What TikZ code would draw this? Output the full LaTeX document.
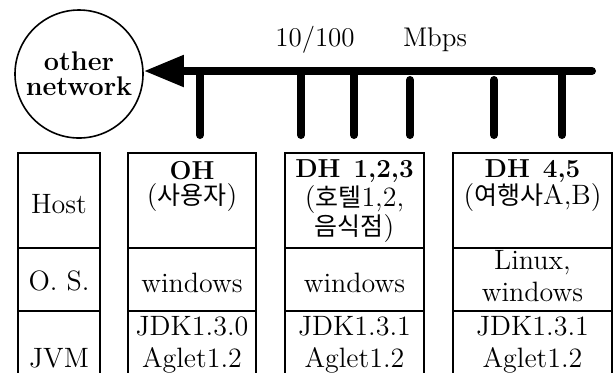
\documentclass[tikz,border=0pt]{standalone}
\usepackage{fontspec}
\newfontfamily\krfont{Noto Sans CJK KR}
\newcommand{\kr}[1]{{\krfont\fontsize{12.5}{16}\selectfont #1}}
\usetikzlibrary{arrows.meta,positioning}

\begin{document}
\begin{tikzpicture}[x=0.5pt,y=-0.5pt,
		bus/.style={line width=4pt,line cap=round},
		tbl/.style={line width=0.6pt},
		cell/.style={align=center,inner sep=0pt,font=\fontsize{14}{16}\selectfont},
		head/.style={cell,font=\fontsize{13}{14}\selectfont\bfseries}]
		\useasboundingbox (0,0) rectangle (614,372);
		\clip (0,0) rectangle (614,372);
		% network and bus
		\node[circle,draw,line width=0.8pt,minimum size=64pt,align=center,inner sep=0pt,
			font=\fontsize{13.5}{12.5}\selectfont\bfseries] (net) at (79,74) {other\\network};
		\coordinate (bus-e) at (592,71);
		\draw[bus,-{Triangle[length=20pt,width=15pt]}] (bus-e) -- (bus-e -| net.east);
		\node[cell,font=\fontsize{13.5}{15}\selectfont] (speed) at (315,40) {10/100};
		\node[cell,font=\fontsize{13.5}{15}\selectfont] (unit) at (435,40) {Mbps};
		\foreach \x/\y in {200/71,301/71,354/71,410/80,494/80,562/71}
			\draw[bus] (\x,\y) -- (\x,135);
		% table columns
		\foreach \l/\r in {18/100,128/256,285/424,453/612} {
			\draw[tbl] (\l,400) |- (\r,153) -- (\r,400);
			\draw[tbl] (\l,248) -- (\r,248) (\l,311) -- (\r,311);
		}
		\node[cell] (host) at (59,204) {Host};
		\node[cell] (os) at (59,281) {O.\ S.};
		\node[cell] (jvm) at (59,358) {JVM};
		\node[head] (oh) at (192,171) {OH};
		\node[cell] (oh-k) at (192,198) {(\kr{사용자})};
		\node[cell] (oh-os) at (192,283) {windows};
		\node[cell] (oh-jvm) at (192,345) {JDK1.3.0\\Aglet1.2};
		\node[head] (dh1) at (354.5,171) {DH\hspace{0.5em}1,2,3};
		\node[cell] (dh1-k) at (354.5,199) {(\kr{호텔}1,2,};
		\node[cell] (dh1-k2) at (354.5,228) {\kr{음식점})};
		\node[cell] (dh1-os) at (354.5,283) {windows};
		\node[cell] (dh1-jvm) at (354.5,345) {JDK1.3.1\\Aglet1.2};
		\node[head] (dh4) at (532.5,171) {DH\hspace{0.5em}4,5};
		\node[cell] (dh4-k) at (532.5,198) {(\kr{여행사}A,B)};
		\node[cell] (dh4-os) at (532.5,276) {Linux,\\windows};
		\node[cell] (dh4-jvm) at (532.5,345) {JDK1.3.1\\Aglet1.2};
\end{tikzpicture}
\end{document}
